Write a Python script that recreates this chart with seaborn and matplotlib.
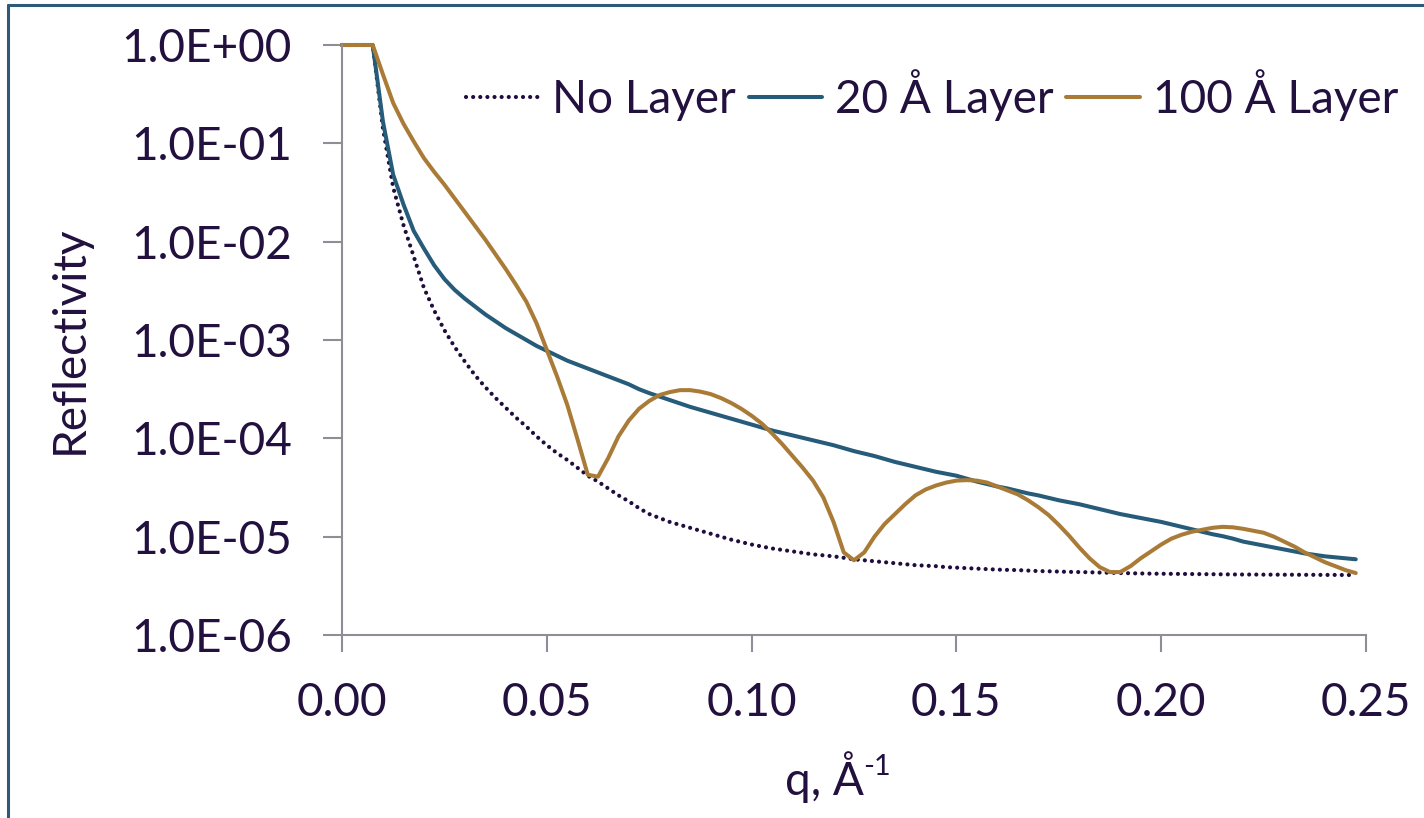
import matplotlib
matplotlib.use("Agg")
import matplotlib.pyplot as plt
import numpy as np
import pandas as pd
import seaborn as sns
from matplotlib.lines import Line2D
from matplotlib.ticker import FixedLocator, FuncFormatter, NullLocator

# q values (1/Angstrom)
q = [
    0.0, 0.0025, 0.005, 0.0075, 0.01, 0.0125, 0.015, 0.0175, 0.02, 0.0225,
    0.025, 0.0275, 0.03, 0.0325, 0.035, 0.0375, 0.04, 0.0425, 0.045, 0.0475,
    0.05, 0.0525, 0.055, 0.0575, 0.06, 0.0625, 0.065, 0.0675, 0.07, 0.0725,
    0.075, 0.0775, 0.08, 0.0825, 0.085, 0.0875, 0.09, 0.0925, 0.095, 0.0975,
    0.1, 0.1025, 0.105, 0.1075, 0.11, 0.1125, 0.115, 0.1175, 0.12, 0.1225,
    0.125, 0.1275, 0.13, 0.1325, 0.135, 0.1375, 0.14, 0.1425, 0.145, 0.1475,
    0.15, 0.1525, 0.155, 0.1575, 0.16, 0.1625, 0.165, 0.1675, 0.17, 0.1725,
    0.175, 0.1775, 0.18, 0.1825, 0.185, 0.1875, 0.19, 0.1925, 0.195, 0.1975,
    0.2, 0.2025, 0.205, 0.2075, 0.21, 0.2125, 0.215, 0.2175, 0.22, 0.2225,
    0.225, 0.2275, 0.23, 0.2325, 0.235, 0.2375, 0.24, 0.2425, 0.245, 0.2475,
]

no_layer_log10 = [
    0.0, 0.0, 0.0, 0.0, -0.85, -1.45, -1.83, -2.15, -2.47, -2.70,
    -2.90, -3.07, -3.22, -3.36, -3.48, -3.59, -3.69, -3.79, -3.88, -3.98,
    -4.07, -4.15, -4.22, -4.30, -4.38, -4.44, -4.51, -4.58, -4.64, -4.71,
    -4.77, -4.81, -4.85, -4.88, -4.91, -4.94, -4.97, -5.00, -5.03, -5.055,
    -5.08, -5.10, -5.12, -5.135, -5.15, -5.165, -5.18, -5.19, -5.20, -5.215,
    -5.23, -5.24, -5.25, -5.26, -5.27, -5.28, -5.29, -5.295, -5.30, -5.31,
    -5.315, -5.32, -5.325, -5.33, -5.335, -5.338, -5.34, -5.345, -5.35, -5.352,
    -5.355, -5.358, -5.36, -5.362, -5.365, -5.367, -5.37, -5.372, -5.374, -5.376,
    -5.377, -5.378, -5.379, -5.38, -5.381, -5.382, -5.383, -5.384, -5.385, -5.385,
    -5.386, -5.386, -5.387, -5.387, -5.388, -5.388, -5.389, -5.389, -5.39, -5.39,
]

layer_20_log10 = [
    0.0, 0.0, 0.0, 0.0, -0.78, -1.32, -1.62, -1.89, -2.07, -2.24,
    -2.38, -2.49, -2.58, -2.66, -2.74, -2.81, -2.88, -2.94, -3.00, -3.06,
    -3.11, -3.16, -3.21, -3.25, -3.29, -3.33, -3.37, -3.41, -3.45, -3.50,
    -3.54, -3.575, -3.61, -3.645, -3.68, -3.71, -3.74, -3.77, -3.80, -3.83,
    -3.86, -3.89, -3.92, -3.945, -3.97, -3.995, -4.02, -4.045, -4.07, -4.10,
    -4.13, -4.155, -4.18, -4.21, -4.24, -4.265, -4.29, -4.315, -4.34, -4.36,
    -4.38, -4.41, -4.44, -4.465, -4.49, -4.51, -4.535, -4.56, -4.58, -4.605,
    -4.63, -4.65, -4.67, -4.695, -4.72, -4.745, -4.77, -4.79, -4.81, -4.83,
    -4.85, -4.875, -4.90, -4.925, -4.95, -4.975, -4.995, -5.02, -5.05, -5.07,
    -5.09, -5.11, -5.13, -5.15, -5.17, -5.185, -5.20, -5.21, -5.22, -5.23,
]

layer_100_log10 = [
    0.0, 0.0, 0.0, 0.0, -0.30, -0.59, -0.80, -0.98, -1.15, -1.29,
    -1.42, -1.56, -1.70, -1.84, -1.98, -2.13, -2.28, -2.44, -2.61, -2.83,
    -3.10, -3.37, -3.66, -4.01, -4.37, -4.39, -4.20, -3.98, -3.82, -3.70,
    -3.62, -3.56, -3.53, -3.51, -3.51, -3.525, -3.55, -3.59, -3.64, -3.70,
    -3.77, -3.85, -3.95, -4.06, -4.18, -4.30, -4.43, -4.60, -4.85, -5.16,
    -5.24, -5.16, -5.00, -4.87, -4.77, -4.67, -4.58, -4.52, -4.48, -4.45,
    -4.43, -4.425, -4.43, -4.45, -4.49, -4.53, -4.57, -4.63, -4.70, -4.78,
    -4.88, -4.99, -5.11, -5.22, -5.31, -5.36, -5.36, -5.30, -5.22, -5.15,
    -5.08, -5.02, -4.98, -4.95, -4.93, -4.91, -4.90, -4.905, -4.92, -4.94,
    -4.96, -5.00, -5.05, -5.10, -5.16, -5.21, -5.26, -5.30, -5.34, -5.37,
]

series_names = ["No Layer", "20 \u00c5 Layer", "100 \u00c5 Layer"]
x_ticks = [0.0, 0.05, 0.10, 0.15, 0.20, 0.25]
y_ticks = [1e-6, 1e-5, 1e-4, 1e-3, 1e-2, 1e-1, 1e0]

TEXT = "#22103f"
AXIS = "#8e8e96"
BLUE = "#265b79"
GOLD = "#a97b37"
DOTS = "#1f0d3d"
FRAME = "#2e5a78"

sns.set_theme(style="white")
plt.rcParams["font.family"] = ["Lato", "DejaVu Sans"]
plt.rcParams["text.color"] = TEXT
plt.rcParams["axes.labelcolor"] = TEXT
plt.rcParams["xtick.color"] = AXIS
plt.rcParams["ytick.color"] = AXIS
plt.rcParams["xtick.labelcolor"] = TEXT
plt.rcParams["ytick.labelcolor"] = TEXT

W, H = 1424, 818
fig = plt.figure(figsize=(W / 100, H / 100), dpi=100)
ax = fig.add_axes([342 / W, 1 - 635 / H, (1366 - 342) / W, (635 - 45) / H])

df = pd.DataFrame({
    "q": q,
    series_names[0]: 10 ** np.array(no_layer_log10),
    series_names[1]: 10 ** np.array(layer_20_log10),
    series_names[2]: 10 ** np.array(layer_100_log10),
})

sns.lineplot(data=df, x="q", y=series_names[0], ax=ax, color=DOTS, lw=3.0,
             label=series_names[0], clip_on=False)
sns.lineplot(data=df, x="q", y=series_names[1], ax=ax, color=BLUE, lw=2.9,
             label=series_names[1], clip_on=False)
sns.lineplot(data=df, x="q", y=series_names[2], ax=ax, color=GOLD, lw=2.9,
             label=series_names[2], clip_on=False)
dot_line = ax.get_lines()[0]
dot_line.set_linestyle((0, (0.01, 1.7)))
dot_line.set_dash_capstyle("round")

ax.set_yscale("log")
ax.set_xlim(0, 0.25)
ax.set_ylim(1e-6, 1.0)
ax.xaxis.set_major_locator(FixedLocator(x_ticks))
ax.yaxis.set_major_locator(FixedLocator(y_ticks))
ax.yaxis.set_minor_locator(NullLocator())
ax.xaxis.set_major_formatter(FuncFormatter(lambda v, p: f"{v:.2f}"))
ax.yaxis.set_major_formatter(FuncFormatter(lambda v, p: f"{v:.1E}"))

for side in ["top", "right"]:
    ax.spines[side].set_visible(False)
for side in ["left", "bottom"]:
    ax.spines[side].set_color(AXIS)
    ax.spines[side].set_linewidth(1.5)

ax.tick_params(axis="y", which="major", direction="out", length=14, width=1.5,
               pad=22, labelsize=33, left=True)
ax.tick_params(axis="x", which="major", direction="out", length=12, width=1.5,
               pad=22, labelsize=33, bottom=True)

ax.set_ylabel("Reflectivity", fontsize=33, labelpad=22)
ax.set_xlabel("q, \u00c5", fontsize=33)
ax.xaxis.label.set_verticalalignment("center")
ax.xaxis.set_label_coords((824 - 342) / 1024, -(777 - 635) / 590)
ax.annotate("-1", xy=(0.99, 0.95), xycoords=ax.xaxis.label, fontsize=21,
            color=TEXT, ha="left", va="top", annotation_clip=False)

leg = ax.legend(loc="center right", bbox_to_anchor=(1398 / W, 1 - 95 / H),
                bbox_transform=fig.transFigure, ncol=3, frameon=False,
                fontsize=33, handlelength=1.6, handletextpad=0.28,
                columnspacing=0.28, borderpad=0, borderaxespad=0)
for t in leg.get_texts():
    t.set_color(TEXT)

# frame lines of the chart area (left and top)
fig.add_artist(Line2D([8 / W, 8 / W], [0, 1 - 5 / H], transform=fig.transFigure,
                      color=FRAME, lw=2.2))
fig.add_artist(Line2D([8 / W, 1], [1 - 5 / H, 1 - 5 / H], transform=fig.transFigure,
                      color=FRAME, lw=2.2))

fig.savefig("out.png", dpi=100)
